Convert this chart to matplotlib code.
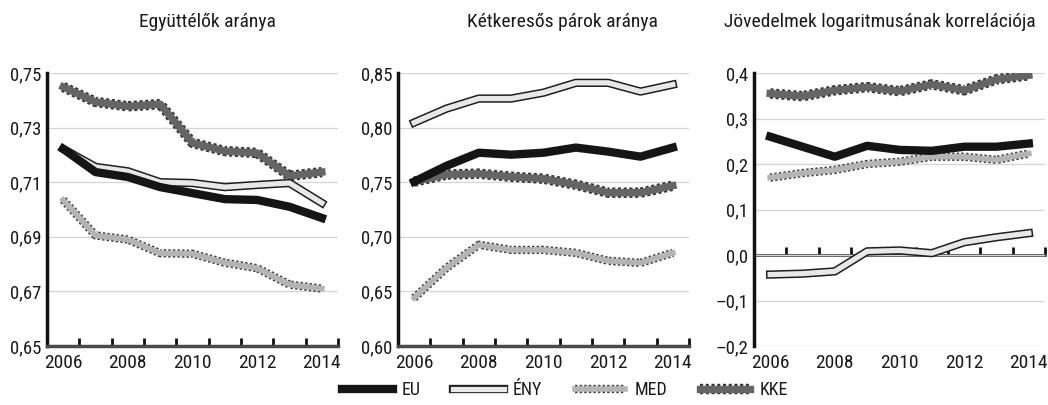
import matplotlib
matplotlib.use("Agg")
import matplotlib.pyplot as plt
from matplotlib import font_manager
from matplotlib.legend_handler import HandlerTuple

# pick a narrow font if one is around
entries = font_manager.fontManager.ttflist
names = {f.name for f in entries}
font, stretch = "DejaVu Sans", "normal"
for cand in ["Liberation Sans Narrow", "Roboto Condensed", "Open Sans Condensed"]:
    if cand in names:
        font = cand
        break
else:
    if any(f.name == "DejaVu Sans" and str(f.stretch) == "condensed" for f in entries):
        stretch = "condensed"
plt.rcParams["font.family"] = [font, "DejaVu Sans"]
plt.rcParams["font.stretch"] = stretch

years = [2006, 2007, 2008, 2009, 2010, 2011, 2012, 2013, 2014]
label_years = [2006, 2008, 2010, 2012, 2014]

# Együttélők aránya
coh_eu = [0.7222, 0.7137, 0.7119, 0.7082, 0.7060, 0.7038, 0.7035, 0.7010, 0.6969]
coh_eny = [0.7222, 0.7156, 0.7140, 0.7100, 0.7097, 0.7082, 0.7090, 0.7097, 0.7024]
coh_med = [0.7035, 0.6905, 0.6890, 0.6840, 0.6838, 0.6805, 0.6785, 0.6725, 0.6710]
coh_kke = [0.7449, 0.7394, 0.7378, 0.7386, 0.7244, 0.7214, 0.7207, 0.7123, 0.7137]

# Kétkeresős párok aránya
dual_eu = [0.7505, 0.7650, 0.7770, 0.7752, 0.7770, 0.7817, 0.7780, 0.7734, 0.7817]
dual_eny = [0.8046, 0.8174, 0.8266, 0.8266, 0.8320, 0.8410, 0.8410, 0.8330, 0.8394]
dual_med = [0.6440, 0.6716, 0.6927, 0.6880, 0.6880, 0.6853, 0.6780, 0.6761, 0.6853]
dual_kke = [0.7505, 0.7570, 0.7578, 0.7550, 0.7532, 0.7477, 0.7404, 0.7404, 0.7468]

# Jövedelmek logaritmusának korrelációja
corr_eu = [0.260, 0.238, 0.216, 0.240, 0.231, 0.229, 0.238, 0.238, 0.245]
corr_eny = [-0.043, -0.041, -0.036, 0.008, 0.010, 0.004, 0.028, 0.039, 0.048]
corr_med = [0.170, 0.180, 0.187, 0.200, 0.205, 0.216, 0.216, 0.209, 0.223]
corr_kke = [0.355, 0.349, 0.362, 0.369, 0.360, 0.375, 0.362, 0.386, 0.395]

titles = ["Együttélők aránya", "Kétkeresős párok aránya",
          "Jövedelmek logaritmusának korrelációja"]
yticks = [[0.65, 0.67, 0.69, 0.71, 0.73, 0.75],
          [0.60, 0.65, 0.70, 0.75, 0.80, 0.85],
          [-0.2, -0.1, 0.0, 0.1, 0.2, 0.3, 0.4]]
ylabels = [["0,65", "0,67", "0,69", "0,71", "0,73", "0,75"],
           ["0,60", "0,65", "0,70", "0,75", "0,80", "0,85"],
           ["–0,2", "–0,1", "0,0", "0,1", "0,2", "0,3", "0,4"]]
panels = [(coh_eu, coh_eny, coh_med, coh_kke),
          (dual_eu, dual_eny, dual_med, dual_kke),
          (corr_eu, corr_eny, corr_med, corr_kke)]

fig = plt.figure(figsize=(10.48, 4.05), dpi=100)
lefts = [47, 398, 754]
title_x = [207, 562, 880]
W, H = 1048, 405
bounds = [0.5 + y for y in years]
dots = (0, (0.3, 0.25))
txt = "#1a1a1a"

handles = None
for i, (eu, eny, med, kke) in enumerate(panels):
    ax = fig.add_axes([lefts[i] / W, 59 / H, 291 / W, 273 / H])
    ax.set_xlim(2005.5, 2014.5)
    ax.set_ylim(yticks[i][0], yticks[i][-1])
    ax.set_yticks(yticks[i], ylabels[i])
    ax.grid(axis="y", color="#d4d4d4", lw=0.9)
    ax.set_axisbelow(True)
    for s in ["top", "right"]:
        ax.spines[s].set_visible(False)
    ax.spines["left"].set_linewidth(2.5)
    ax.spines["left"].set_color("#111111")
    ax.tick_params(axis="y", length=0, pad=4, labelsize=13.5, colors=txt)

    # KKE
    k1, = ax.plot(years, kke, color="#333333", lw=7.5, ls=dots, zorder=3)
    k2, = ax.plot(years, kke, color="#656565", lw=5.3, zorder=3.1)
    # MED
    m1, = ax.plot(years, med, color="#444444", lw=6, ls=dots, zorder=3.2)
    m2, = ax.plot(years, med, color="#b4b4b4", lw=4, zorder=3.3)
    # ÉNY
    n1, = ax.plot(years, eny, color="#1e1e1e", lw=6, zorder=3.4)
    n2, = ax.plot(years, eny, color="#e8e8e8", lw=3.8, zorder=3.5)
    # EU
    e1, = ax.plot(years, eu, color="#151515", lw=6, zorder=3.6)
    handles = [(e1,), (n1, n2), (m1, m2), (k1, k2)]

    if i < 2:
        ax.spines["bottom"].set_linewidth(2.5)
        ax.spines["bottom"].set_color("#4a4a4a")
        ax.set_xticks(bounds)
        ax.tick_params(axis="x", which="major", direction="in", length=6, width=2,
                       color="#111111", labelbottom=False)
        ax.set_xticks(label_years, [str(y) for y in label_years], minor=True)
        ax.tick_params(axis="x", which="minor", length=0, pad=6, labelsize=14,
                       colors=txt)
    else:
        ax.spines["bottom"].set_visible(False)
        ax.set_xticks(label_years, [str(y) for y in label_years])
        ax.tick_params(axis="x", length=0, pad=6, labelsize=14, colors=txt)
        sec = ax.secondary_xaxis(1 / 3)
        sec.set_xticks(bounds)
        sec.tick_params(axis="x", direction="in", length=6, width=2,
                        color="#111111", labelbottom=False, labeltop=False)
        for s in sec.spines.values():
            s.set_linewidth(2)
            s.set_color("#4a4a4a")

    fig.text(title_x[i] / W, 1 - 22 / H, titles[i], ha="center", va="center",
             fontsize=14, color=txt)

fig.legend(handles, ["EU", "ÉNY", "MED", "KKE"], loc="center",
           bbox_to_anchor=(565 / W, 15 / H), ncol=4, frameon=False, fontsize=13,
           handlelength=2.8, columnspacing=1.8, handletextpad=0.5,
           handler_map={tuple: HandlerTuple(ndivide=1)})
for t in fig.legends[0].get_texts():
    t.set_color(txt)

fig.savefig("out.png", dpi=100)
